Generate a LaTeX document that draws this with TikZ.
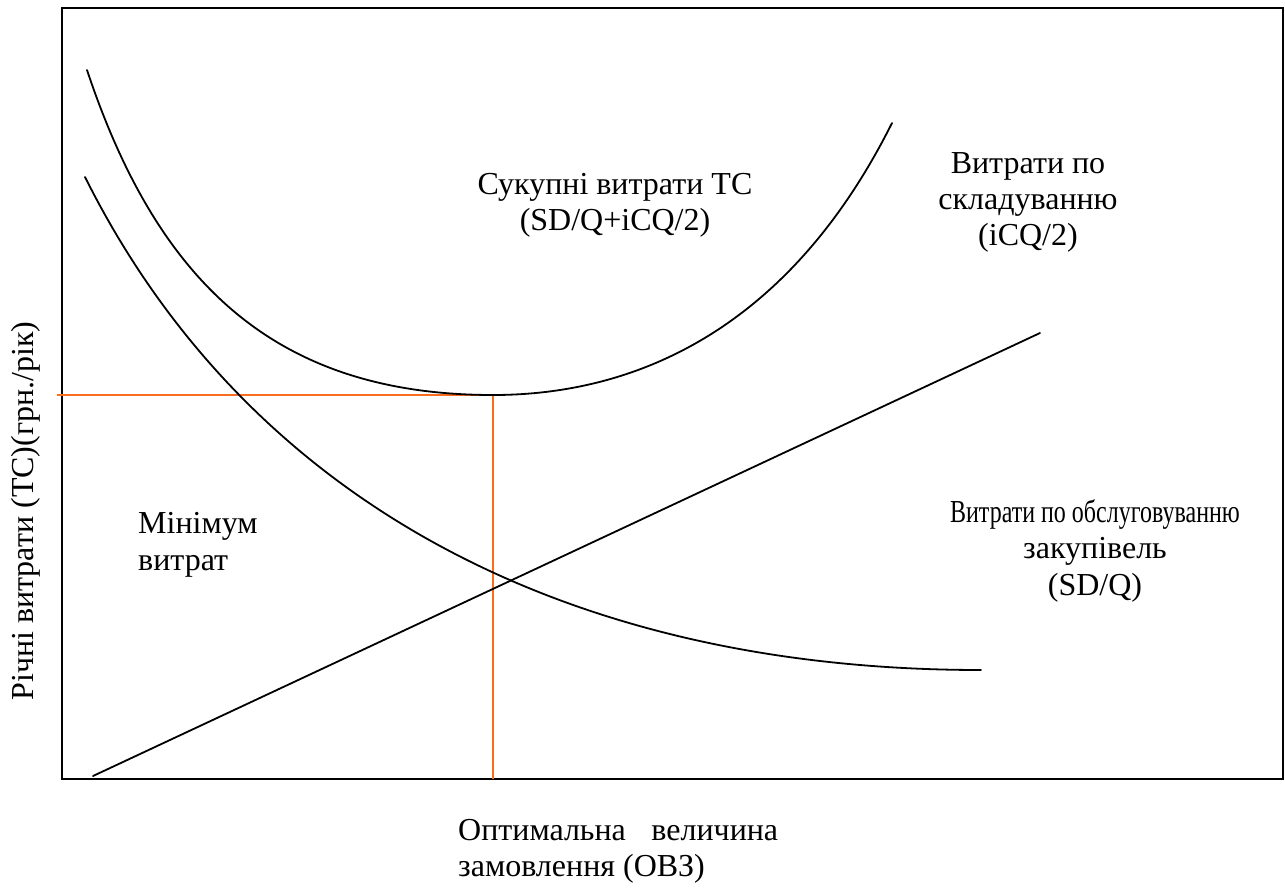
\documentclass[tikz,border=0pt]{standalone}
\usepackage{fontspec}
\usepackage{graphicx}
\setmainfont{Liberation Serif}
\definecolor{optline}{RGB}{250,110,30}
\begin{document}
\begin{tikzpicture}[x=1pt,y=-1pt,
  curve/.style={line width=1.8pt,black,line cap=round},
  guide/.style={line width=1.8pt,optline},
  lbl/.style={inner sep=0pt,align=center,font=\fontsize{32}{36}\selectfont},
  lbll/.style={inner sep=0pt,align=left,font=\fontsize{32}{36}\selectfont}]
\useasboundingbox (0,0) rectangle (1285,892);
% plot frame
\coordinate (tl) at (62,8);
\coordinate (br) at (1283,779);
\draw[line width=2.2pt] (tl) rectangle (br);
% optimum guide lines
\coordinate (ystart) at (57,395);
\coordinate (opt) at (493,395);
\coordinate (xfoot) at (493,779);
\draw[guide] (ystart) -- (opt) -- (xfoot);
% total cost curve: two cubic pieces meeting at the minimum
\coordinate (tcs) at (87,70);
\coordinate (tce) at (892,123);
\draw[curve] (tcs) .. controls (157,280) and (273,395) .. (opt)
                   .. controls (643,395) and (792,323) .. (tce);
% ordering cost curve
\coordinate (ocs) at (85,177);
\coordinate (oce) at (981,670);
\draw[curve] (ocs) .. controls (245,497) and (561,670) .. (oce);
% holding cost line
\coordinate (hs) at (93,776);
\coordinate (he) at (1040,333);
\draw[curve] (hs) -- (he);
% labels
\node[lbl,anchor=base] (tc1) at (615,194) {Сукупні витрати ТС};
\node[lbl,anchor=base] (tc2) at (615,230) {(SD/Q+iCQ/2)};
\node[lbl,anchor=base] (hc1) at (1028,173) {Витрати по};
\node[lbl,anchor=base] (hc2) at (1028,209) {складуванню};
\node[lbl,anchor=base] (hc3) at (1028,245) {(iCQ/2)};
\node[lbl,anchor=base] (oc1) at (1095,522) {\scalebox{0.75}[1]{Витрати по обслуговуванню}};
\node[lbl,anchor=base] (oc2) at (1095,558) {закупівель};
\node[lbl,anchor=base] (oc3) at (1095,595) {(SD/Q)};
\node[lbll,anchor=base west] (mn1) at (138,533) {Мінімум};
\node[lbll,anchor=base west] (mn2) at (138,570) {витрат};
\node[lbl,anchor=base,rotate=90] (yl) at (33,511) {Річні витрати (ТС)(грн./рік)};
\node[lbll,anchor=base west] (xl1) at (458,840) {\makebox[320pt][s]{Оптимальна величина}};
\node[lbll,anchor=base west] (xl2) at (458,876) {замовлення (ОВЗ)};
\end{tikzpicture}
\end{document}
